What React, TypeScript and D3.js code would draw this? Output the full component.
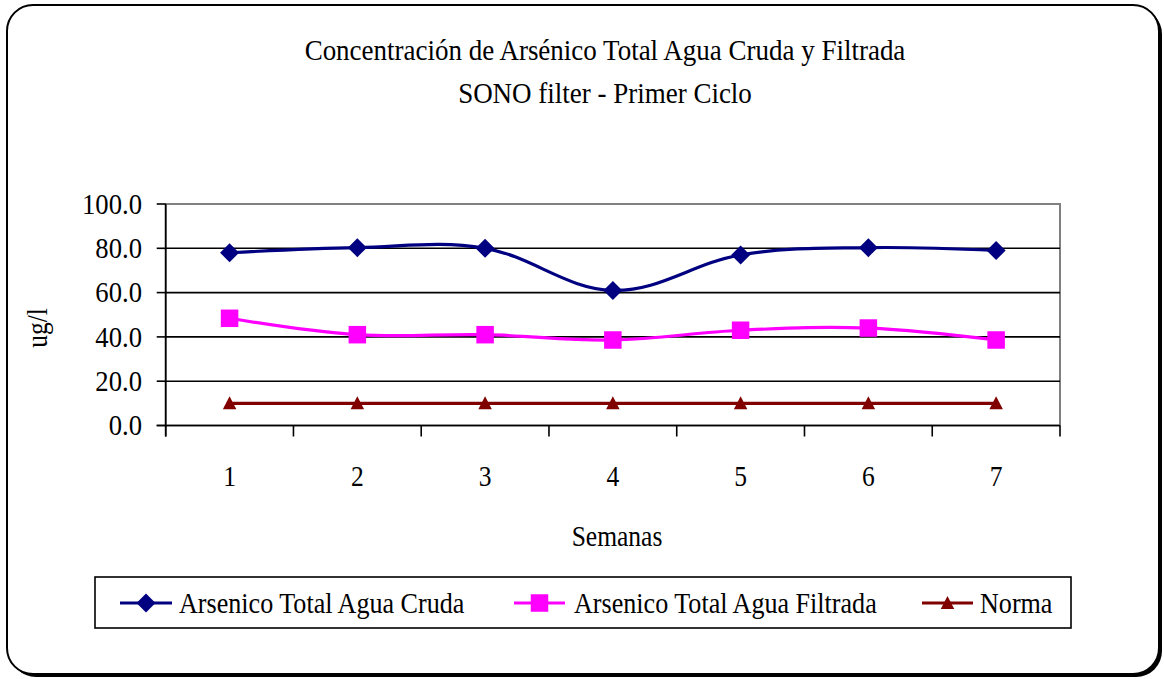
import React from "react";
import * as d3 from "d3";

const categories = ["1", "2", "3", "4", "5", "6", "7"];
const cruda = [78, 80.3, 80, 61, 77, 80.3, 79];
const filtrada = [48.4, 41, 41, 38.6, 43, 44, 38.6];
const norma = [10, 10, 10, 10, 10, 10, 10];
const yTicks = [0, 20, 40, 60, 80, 100];
const titleLines = ["Concentración de Arsénico Total Agua Cruda y Filtrada", "SONO filter - Primer Ciclo"];
const seriesNames = ["Arsenico Total Agua Cruda", "Arsenico Total Agua Filtrada", "Norma"];

const W = 1164, H = 679;
const plot = { left: 165.7, right: 1060, top: 204, bottom: 425.5 };
const FONT = "'Liberation Serif', 'Times New Roman', serif";
const FS = 29;
const SX = 0.88;

function T({ x, y, anchor = "middle", children, size = FS, sx = SX, rotate = 0 }: any) {
  return (
    <text
      transform={`translate(${x},${y}) rotate(${rotate}) scale(${sx},1)`}
      textAnchor={anchor}
      dominantBaseline="central"
      fontFamily={FONT}
      fontSize={size}
      fill="#000"
    >
      {children}
    </text>
  );
}

function Marker({ kind, x, y }: { kind: string; x: number; y: number }) {
  if (kind === "diamond") {
    const r = 9.5;
    return <path d={`M${x},${y - r}L${x + r},${y}L${x},${y + r}L${x - r},${y}Z`} fill="#000080" />;
  }
  if (kind === "square") {
    const s = 17.5;
    return <rect x={x - s / 2} y={y - s / 2} width={s} height={s} fill="#FF00FF" />;
  }
  const w = 13.5, h = 12;
  return <path d={`M${x},${y - h / 2 - 1}L${x + w / 2},${y + h / 2}L${x - w / 2},${y + h / 2}Z`} fill="#800000" />;
}

export default function App() {
  const x = d3.scaleBand<string>().domain(categories).range([plot.left, plot.right]).padding(0);
  const y = d3.scaleLinear().domain([0, 100]).range([plot.bottom, plot.top]);
  const cx = (c: string) => (x(c) as number) + x.bandwidth() / 2;

  const series = [
    { name: seriesNames[0], values: cruda, color: "#000080", kind: "diamond" },
    { name: seriesNames[1], values: filtrada, color: "#FF00FF", kind: "square" },
    { name: seriesNames[2], values: norma, color: "#800000", kind: "triangle" },
  ];

  const line = d3
    .line<number>()
    .x((_, i) => cx(categories[i]))
    .y((d) => y(d))
    .curve(d3.curveCardinal.tension(-0.1));

  const boundaries = [...categories.map((c) => x(c) as number), plot.right];

  const legendItems = [
    { lx1: 120, lx2: 172, tx: 179 },
    { lx1: 514, lx2: 565, tx: 574 },
    { lx1: 922, lx2: 973, tx: 980 },
  ];
  const legendY = 603;

  return (
    <svg width={W} height={H} style={{ position: "absolute", left: 0, top: 0, display: "block" }}>
      <rect x={0} y={0} width={W} height={H} fill="#fff" />
      {/* outer frame with shadow */}
      <rect x={10} y={8} width={1152} height={669} rx={26} ry={26} fill="#000" />
      <rect x={7} y={5} width={1152} height={669} rx={26} ry={26} fill="#fff" stroke="#000" strokeWidth={2} />

      {/* title */}
      <T x={605} y={50} size={30} sx={0.9}>{titleLines[0]}</T>
      <T x={605} y={93} size={30} sx={0.9}>{titleLines[1]}</T>

      {/* plot area border */}
      <rect
        x={plot.left}
        y={plot.top}
        width={plot.right - plot.left}
        height={plot.bottom - plot.top}
        fill="none"
        stroke="#808080"
        strokeWidth={2}
      />
      {/* gridlines */}
      {yTicks
        .filter((t) => t > 0 && t < 100)
        .map((t) => (
          <line key={t} x1={plot.left} x2={plot.right} y1={y(t)} y2={y(t)} stroke="#000" strokeWidth={1.6} />
        ))}
      {/* axes */}
      <line x1={plot.left} x2={plot.left} y1={plot.top} y2={plot.bottom + 11} stroke="#000" strokeWidth={1.6} />
      <line x1={plot.left - 9} x2={plot.right} y1={plot.bottom} y2={plot.bottom} stroke="#000" strokeWidth={1.6} />
      {yTicks.map((t) => (
        <line key={t} x1={plot.left - 9} x2={plot.left} y1={y(t)} y2={y(t)} stroke="#000" strokeWidth={1.6} />
      ))}
      {boundaries.map((b, i) => (
        <line key={i} x1={b} x2={b} y1={plot.bottom} y2={plot.bottom + 11} stroke="#000" strokeWidth={1.6} />
      ))}
      {/* tick labels */}
      {yTicks.map((t) => (
        <T key={t} x={142} y={y(t)} anchor="end" sx={0.92}>
          {t.toFixed(1)}
        </T>
      ))}
      {categories.map((c) => (
        <T key={c} x={cx(c)} y={476}>
          {c}
        </T>
      ))}
      <T x={617} y={536}>Semanas</T>
      <T x={37} y={328} rotate={-90}>ug/l</T>

      {/* series */}
      {series.map((s) => (
        <g key={s.name}>
          <path d={line(s.values) as string} fill="none" stroke={s.color} strokeWidth={3.2} />
          {s.values.map((v, i) => (
            <Marker key={i} kind={s.kind} x={cx(categories[i])} y={y(v)} />
          ))}
        </g>
      ))}

      {/* legend */}
      <rect x={95} y={577} width={976} height={51} fill="#fff" stroke="#000" strokeWidth={1.6} />
      {series.map((s, i) => {
        const it = legendItems[i];
        return (
          <g key={s.name}>
            <line x1={it.lx1} x2={it.lx2} y1={legendY} y2={legendY} stroke={s.color} strokeWidth={3.2} />
            <Marker kind={s.kind} x={(it.lx1 + it.lx2) / 2} y={legendY} />
            <T x={it.tx} y={legendY} anchor="start" sx={0.9}>
              {s.name}
            </T>
          </g>
        );
      })}
    </svg>
  );
}
